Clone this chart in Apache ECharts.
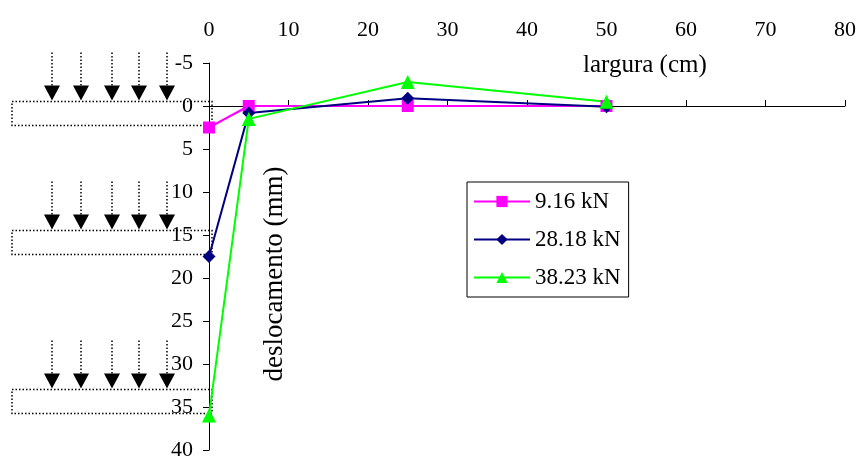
<!DOCTYPE html>
<html>
<head>
<meta charset="utf-8">
<script src="https://cdn.jsdelivr.net/npm/echarts@6/dist/echarts.min.js"></script>
<style>html,body{margin:0;padding:0;background:#fff}#c{width:857px;height:457px}</style>
</head>
<body>
<div id="c"></div>
<script>
var xValues = [0, 5, 25, 50];
var seriesNames = ['9.16 kN', '28.18 kN', '38.23 kN'];
var s916 = [2.5, 0.0, 0.0, 0.0];
var s2818 = [17.5, 0.8, -0.9, 0.1];
var s3823 = [36.0, 1.5, -2.8, -0.5];
var xTicks = [0, 10, 20, 30, 40, 50, 60, 70, 80];
var yTicks = [-5, 0, 5, 10, 15, 20, 25, 30, 35, 40];

var FONT = 'Liberation Serif';
var chart = echarts.init(document.getElementById('c'), null, {renderer: 'canvas'});

function pairs(arr) { return xValues.map(function (x, i) { return [x, arr[i]]; }); }

var xMin = xTicks[0], xMax = xTicks[xTicks.length - 1];
var option = {
  animation: false,
  backgroundColor: '#ffffff',
  textStyle: {fontFamily: FONT},
  grid: {left: 209, right: 12, top: 63, bottom: 7, containLabel: false, outerBoundsMode: 'none'},
  xAxis: [{
    type: 'value', position: 'top',
    min: xMin, max: xMax, interval: 10,
    axisLine: {show: true, onZero: true, lineStyle: {color: '#000', width: 1}},
    axisTick: {show: true, inside: false, length: 6, lineStyle: {color: '#000'}},
    axisLabel: {show: false},
    splitLine: {show: false}
  }, {
    type: 'value', position: 'top',
    min: xMin, max: xMax, interval: 10,
    axisLine: {show: false, onZero: false},
    axisTick: {show: false},
    axisLabel: {show: true, margin: 22, color: '#000', fontFamily: FONT, fontSize: 22,
      showMinLabel: true, showMaxLabel: true, hideOverlap: false},
    splitLine: {show: false}
  }],
  yAxis: {
    type: 'value', inverse: true,
    min: yTicks[0], max: yTicks[yTicks.length - 1], interval: 5,
    axisLine: {show: true, onZero: false, lineStyle: {color: '#000', width: 1}},
    axisTick: {show: true, inside: false, length: 6, lineStyle: {color: '#000'}},
    axisLabel: {margin: 16, color: '#000', fontFamily: FONT, fontSize: 22},
    splitLine: {show: false}
  },
  legend: {
    left: 467, top: 182, orient: 'vertical',
    data: seriesNames,
    itemWidth: 56, itemHeight: 14, itemGap: 15,
    padding: [8, 8, 8, 6],
    borderColor: '#000', borderWidth: 1,
    textStyle: {fontFamily: FONT, fontSize: 23, color: '#000'}
  },
  series: [
    {name: seriesNames[0], type: 'line', data: pairs(s916), symbol: 'rect', symbolSize: 12,
      itemStyle: {color: '#FF00FF'}, lineStyle: {color: '#FF00FF', width: 2}},
    {name: seriesNames[1], type: 'line', data: pairs(s2818), symbol: 'diamond', symbolSize: 13,
      itemStyle: {color: '#000080'}, lineStyle: {color: '#000080', width: 2}},
    {name: seriesNames[2], type: 'line', data: pairs(s3823), symbol: 'triangle', symbolSize: 14,
      itemStyle: {color: '#00FF00'}, lineStyle: {color: '#00FF00', width: 2}}
  ]
};
chart.setOption(option);

// schematic load drawings on the left, anchored to the displacement at x = 0
var starts = [s916[0], s2818[0], s3823[0]];
var arrowX = [52, 81, 112, 139, 167];
var g = [];
starts.forEach(function (v) {
  var bottom = chart.convertToPixel({yAxisIndex: 0}, v) - 2;
  var top = bottom - 24;
  g.push({type: 'rect', shape: {x: 12, y: top, width: 200, height: 24},
    style: {fill: 'none', stroke: '#000', lineWidth: 1.5, lineDash: [1.5, 2]}, z: 1});
  arrowX.forEach(function (ax) {
    g.push({type: 'line', shape: {x1: ax, y1: top - 49, x2: ax, y2: top - 14},
      style: {stroke: '#000', lineWidth: 1.5, lineDash: [1.5, 2]}, z: 1});
    g.push({type: 'polygon', shape: {points: [[ax - 8, top - 16], [ax + 8, top - 16], [ax, top - 1]]},
      style: {fill: '#000'}, z: 1});
  });
});
g.push({type: 'text', x: 583, y: 65,
  style: {text: 'largura (cm)', font: '25px "Liberation Serif"', fill: '#000',
    textAlign: 'left', textVerticalAlign: 'middle'}});
g.push({type: 'text', x: 275, y: 274, rotation: Math.PI / 2,
  style: {text: 'deslocamento (mm)', font: '27px "Liberation Serif"', fill: '#000',
    textAlign: 'center', textVerticalAlign: 'middle'}});
chart.setOption({graphic: g});
</script>
</body>
</html>
